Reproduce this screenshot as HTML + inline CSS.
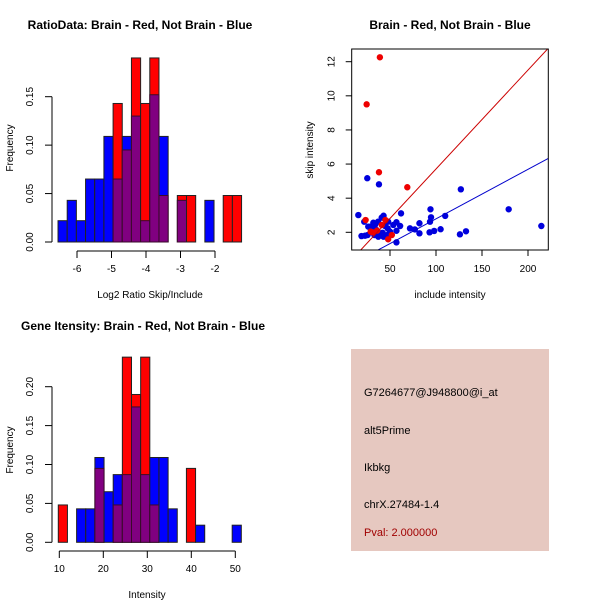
<!DOCTYPE html>
<html><head><meta charset="utf-8"><style>
body{margin:0;background:#fff;}
svg{display:block;font-family:"Liberation Sans",sans-serif;}
</style></head><body>
<svg id="c" width="600" height="600" viewBox="0 0 600 600">
<rect x="0" y="0" width="600" height="600" fill="#fff"/>
<text x="140" y="29" font-size="12" font-weight="bold" text-anchor="middle">RatioData: Brain - Red, Not Brain - Blue</text>
<text x="450" y="29" font-size="12" font-weight="bold" text-anchor="middle">Brain - Red, Not Brain - Blue</text>
<text x="143" y="330" font-size="12" font-weight="bold" text-anchor="middle">Gene Itensity: Brain - Red, Not Brain - Blue</text>
<text x="150" y="298" font-size="10" text-anchor="middle">Log2 Ratio Skip/Include</text>
<text x="147" y="598" font-size="10" text-anchor="middle">Intensity</text>
<text x="450" y="298" font-size="10" text-anchor="middle">include intensity</text>
<text transform="translate(13,148) rotate(-90)" font-size="10" text-anchor="middle">Frequency</text>
<text transform="translate(13,450) rotate(-90)" font-size="10" text-anchor="middle">Frequency</text>
<text transform="translate(313,150) rotate(-90)" font-size="10" text-anchor="middle">skip intensity</text>
<g>
<rect x="351" y="349" width="198" height="202" fill="#e6c8c0"/>
<text x="364" y="396" font-size="11">G7264677@J948800@i_at</text>
<text x="364" y="434" font-size="11">alt5Prime</text>
<text x="364" y="471" font-size="11">Ikbkg</text>
<text x="364" y="508" font-size="11">chrX.27484-1.4</text>
<text x="364" y="536" font-size="11" fill="#a00000">Pval: 2.000000</text>
</g>
</svg>
<script>
// Ratio histogram data
const ratioBreakStart = -6.55;
const ratioBinWidth = 0.266;
const ratioBlue = [0.022,0.043,0.022,0.065,0.065,0.109,0.065,0.109,0.13,0.022,0.152,0.109,0,0.043,0,0,0.043,0,0,0];
const ratioRed  = [0,0,0,0,0,0,0.143,0.095,0.19,0.143,0.19,0.048,0,0.048,0.048,0,0,0,0.048,0.048];
const ratioXTicks = [-6,-5,-4,-3,-2];
const ratioYTicks = [0,0.05,0.10,0.15];
// Intensity histogram data
const intBreakStart = 9.77;
const intBinWidth = 2.08;
const intBlue = [0,0,0.043,0.043,0.109,0.065,0.087,0.087,0.174,0.087,0.109,0.109,0.043,0,0,0.022,0,0,0,0.022];
const intRed  = [0.048,0,0,0,0.095,0,0.048,0.238,0.19,0.238,0.048,0,0,0,0.095,0,0,0,0,0];
const intXTicks = [10,20,30,40,50];
const intYTicks = [0,0.05,0.10,0.15,0.20];
// Scatter data
const redX = [39,24.6,38,68.8,23.5,45,41,29,48,52,36,31];
const redY = [12.26,9.5,5.52,4.64,2.72,2.72,2.43,2.04,1.59,1.84,2.1,2.0];
const blueX = [15.6,25.3,38,127,179,214.5,94,94.6,110,62,93.5,82,71.7,77,82,93,98,105,126,132.6,57,57,57,61,19,22,41,43,37,31.9,33.7,28.3,30,26.4,35.5,39,47,50,47.5,44.6,48,53.6,22.8,25.7,33,37.3,42,43];
const blueY = [3.01,5.17,4.81,4.52,3.35,2.37,3.35,2.88,2.96,3.11,2.62,2.53,2.23,2.17,1.94,2.0,2.08,2.18,1.88,2.06,1.41,2.59,2.09,2.37,1.78,2.62,2.86,2.97,2.62,2.56,2.43,2.33,2.23,2.33,2.13,1.94,1.84,2.04,2.23,2.37,2.62,2.43,1.8,1.84,1.84,1.74,1.97,1.74];
const redFit = [0.058,-0.09];
const blueFit = [0.029,-0.11];
const scXTicks = [50,100,150,200];
const scYTicks = [2,4,6,8,10,12];

const NS="http://www.w3.org/2000/svg";
const svg=document.getElementById('c');
function mk(tag,attrs,parent){const e=document.createElementNS(NS,tag);for(const k in attrs)e.setAttribute(k,attrs[k]);(parent||svg).appendChild(e);return e;}

function hist(cfg){
  const g=mk('g',{});
  
  
  const X=v=>cfg.x0+(v-cfg.xv0)*cfg.xs, Y=v=>cfg.base-v*cfg.ys;
  for(let i=0;i<cfg.blue.length;i++){
    const l=X(cfg.start+i*cfg.w), r=X(cfg.start+(i+1)*cfg.w);
    const b=cfg.blue[i], rd=cfg.red[i], lo=Math.min(b,rd), hi=Math.max(b,rd);
    if(hi<=0) continue;
    const hiCol = rd>=b ? '#ff0000' : '#0000ff';
    const bar=mk('rect',{x:l,y:Y(hi),width:r-l,height:Y(0)-Y(hi),fill:hiCol,stroke:'#222',"stroke-width":1},g);
    
    
    if(lo>0){
      const ov=mk('rect',{x:l,y:Y(lo),width:r-l,height:Y(0)-Y(lo),fill:'#800080',stroke:'#3a0a2a',"stroke-width":1},g);
      
      
    }
  }
  const ya=mk('g',{},g);
  
  
  const yt=cfg.yticks;
  mk('line',{x1:cfg.ax,x2:cfg.ax,y1:Y(yt[0]),y2:Y(yt[yt.length-1]),stroke:'#000'},ya);
  yt.forEach(t=>{
    mk('line',{x1:cfg.ax-7,x2:cfg.ax,y1:Y(t),y2:Y(t),stroke:'#000'},ya);
    const tx=mk('text',{transform:`translate(${cfg.ax-19},${Y(t)}) rotate(-90)`,"font-size":10,"text-anchor":"middle"},ya);
    tx.textContent=t.toFixed(2);
  });
  const xa=mk('g',{},g);
  
  
  const xt=cfg.xticks;
  mk('line',{x1:X(xt[0]),x2:X(xt[xt.length-1]),y1:cfg.ay,y2:cfg.ay,stroke:'#000'},xa);
  xt.forEach(t=>{
    mk('line',{x1:X(t),x2:X(t),y1:cfg.ay,y2:cfg.ay+7,stroke:'#000'},xa);
    const tx=mk('text',{x:X(t),y:cfg.ay+21,"font-size":10,"text-anchor":"middle"},xa);
    tx.textContent=t;
  });
}
hist({name:'ratio-histogram',blue:ratioBlue,red:ratioRed,start:ratioBreakStart,w:ratioBinWidth,x0:77,xv0:-6,xs:34.5,base:242,ys:968.7,ax:52,ay:251,xticks:ratioXTicks,yticks:ratioYTicks});
hist({name:'intensity-histogram',blue:intBlue,red:intRed,start:intBreakStart,w:intBinWidth,x0:59.3,xv0:10,xs:4.4,base:542.3,ys:778,ax:52,ay:551,xticks:intXTicks,yticks:intYTicks});

(function(){
  const g=mk('g',{});
  
  
  const X=v=>344+v*0.92, Y=v=>232.3-(v-2)*17.06;
  const L=351.7,R=548.3,T=49,B=250;
  const cp=mk('clipPath',{id:'sc'},g); mk('rect',{x:L,y:T,width:R-L,height:B-T},cp);
  const pts=mk('g',{"clip-path":"url(#sc)"},g);
  blueX.forEach((x,i)=>{const c=mk('circle',{cx:X(x),cy:Y(blueY[i]),r:3.2,fill:'#0000dd'},pts);
    
    });
  redX.forEach((x,i)=>{const c=mk('circle',{cx:X(x),cy:Y(redY[i]),r:3.2,fill:'#ee0000'},pts);
    
    });
  [[redFit,'#cc0000','red-fit-line'],[blueFit,'#0000cc','blue-fit-line']].forEach(([f,col,n])=>{
    const x1=-20,x2=260;
    const ln=mk('line',{x1:X(x1),y1:Y(f[0]*x1+f[1]),x2:X(x2),y2:Y(f[0]*x2+f[1]),stroke:col,"stroke-width":1},pts);
    
    
  });
  const box=mk('rect',{x:L,y:T,width:R-L,height:B-T,fill:'none',stroke:'#000'},g);
  
  
  scXTicks.forEach(t=>{
    mk('line',{x1:X(t),x2:X(t),y1:B,y2:B+6,stroke:'#000'},g);
    const tx=mk('text',{x:X(t),y:B+22,"font-size":10,"text-anchor":"middle"},g);
    tx.textContent=t;
  });
  scYTicks.forEach(t=>{
    mk('line',{x1:L-6,x2:L,y1:Y(t),y2:Y(t),stroke:'#000'},g);
    const tx=mk('text',{transform:`translate(${L-17},${Y(t)}) rotate(-90)`,"font-size":10,"text-anchor":"middle"},g);
    tx.textContent=t;
  });
})();
</script>
</body></html>
